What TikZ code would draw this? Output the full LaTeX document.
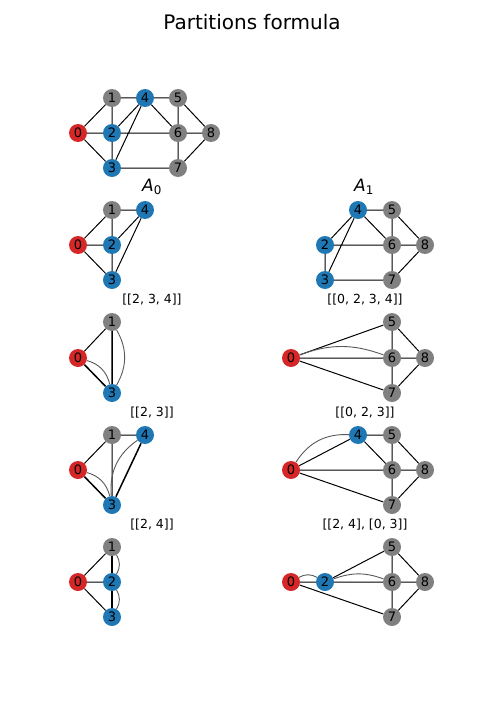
\documentclass[tikz,border=0pt]{standalone}
\usepackage{fontspec}
\setmainfont{DejaVu Sans}
\definecolor{tabred}{HTML}{D62728}
\definecolor{tabblue}{HTML}{1F77B4}
\definecolor{vgray}{HTML}{808080}

\begin{document}
\begin{tikzpicture}[x=1bp,y=-1bp,
  vtx/.style={circle,inner sep=0pt,minimum size=18bp,font=\fontsize{13bp}{14bp}\selectfont},
  vred/.style={vtx,fill=tabred},
  vblue/.style={vtx,fill=tabblue},
  vgrey/.style={vtx,fill=vgray},
  link/.style={line width=1bp},
  multilink/.style={line width=1.5bp},
  arclink/.style={draw=black!65,line width=0.9bp,bend left=30},
  caption/.style={font=\fontsize{12.5bp}{14bp}\selectfont},
  panel/.style={font=\fontsize{17bp}{19bp}\selectfont}]
  \useasboundingbox (0,0) rectangle (504,720);
  \node[font=\fontsize{20bp}{22bp}\selectfont] (title) at (252,22) {Partitions formula};

  \node[vred]  (t0) at (78,133) {0};
  \node[vgrey] (t1) at (112,98) {1};
  \node[vblue] (t2) at (112,133) {2};
  \node[vblue] (t3) at (112,168) {3};
  \node[vblue] (t4) at (145,98) {4};
  \node[vgrey] (t5) at (178,98) {5};
  \node[vgrey] (t6) at (178,133) {6};
  \node[vgrey] (t7) at (178,168) {7};
  \node[vgrey] (t8) at (211,133) {8};
  \draw[link] (t0) -- (t1) (t0) -- (t2) (t0) -- (t3) (t1) -- (t2) (t1) -- (t4)
    (t2) -- (t3) (t2) -- (t4) (t3) -- (t4) (t2) -- (t6) (t3) -- (t7) (t4) -- (t5)
    (t4) -- (t6) (t5) -- (t6) (t5) -- (t8) (t6) -- (t7) (t6) -- (t8) (t7) -- (t8);

  \node[panel] (ttl0) at (152,187) {\textit{A}\textsubscript{0}};
  \node[panel] (ttl1) at (364,187) {\textit{A}\textsubscript{1}};

  \node[vred]  (a0) at (78,245) {0};
  \node[vgrey] (a1) at (112,210) {1};
  \node[vblue] (a2) at (112,245) {2};
  \node[vblue] (a3) at (112,280) {3};
  \node[vblue] (a4) at (145,210) {4};
  \draw[link] (a0) -- (a1) (a0) -- (a2) (a0) -- (a3) (a1) -- (a2) (a1) -- (a4)
    (a2) -- (a3) (a2) -- (a4) (a3) -- (a4);
  \node[caption] (acap) at (152,300) {[[2, 3, 4]]};

  \node[vblue] (b2) at (325,245) {2};
  \node[vblue] (b3) at (325,280) {3};
  \node[vblue] (b4) at (358,210) {4};
  \node[vgrey] (b5) at (392,210) {5};
  \node[vgrey] (b6) at (392,245) {6};
  \node[vgrey] (b7) at (392,280) {7};
  \node[vgrey] (b8) at (425,245) {8};
  \draw[link] (b2) -- (b4) (b3) -- (b4) (b2) -- (b3) (b2) -- (b6) (b3) -- (b7)
    (b4) -- (b5) (b4) -- (b6) (b5) -- (b6) (b5) -- (b8) (b6) -- (b7) (b6) -- (b8) (b7) -- (b8);
  \node[caption] (bcap) at (365,300) {[[0, 2, 3, 4]]};

  \node[vred]  (c0) at (78,358) {0};
  \node[vgrey] (c1) at (112,322) {1};
  \node[vblue] (c3) at (112,393) {3};
  \draw[link] (c0) -- (c1);
  \draw[multilink] (c1) -- (c3) (c0) -- (c3);
  \draw[arclink] (c1) to (c3);
  \draw[arclink] (c0) to (c3);
  \node[caption] (ccap) at (152,413) {[[2, 3]]};

  \node[vred]  (d0) at (291,358) {0};
  \node[vgrey] (d5) at (392,322) {5};
  \node[vgrey] (d6) at (392,358) {6};
  \node[vgrey] (d7) at (392,393) {7};
  \node[vgrey] (d8) at (425,358) {8};
  \draw[link] (d0) -- (d5) (d0) -- (d6) (d0) -- (d7) (d5) -- (d6) (d5) -- (d8)
    (d6) -- (d7) (d6) -- (d8) (d7) -- (d8);
  \draw[arclink,bend left=20] (d0) to (d6);
  \node[caption] (dcap) at (365,413) {[[0, 2, 3]]};

  \node[vred]  (e0) at (78,470) {0};
  \node[vgrey] (e1) at (112,435) {1};
  \node[vblue] (e3) at (112,505) {3};
  \node[vblue] (e4) at (145,435) {4};
  \draw[link] (e0) -- (e1) (e1) -- (e4) (e1) -- (e3);
  \draw[multilink] (e0) -- (e3) (e3) -- (e4);
  \draw[arclink] (e0) to (e3);
  \draw[arclink] (e3) to (e4);
  \node[caption] (ecap) at (152,525) {[[2, 4]]};

  \node[vred]  (f0) at (291,470) {0};
  \node[vblue] (f4) at (358,435) {4};
  \node[vgrey] (f5) at (392,435) {5};
  \node[vgrey] (f6) at (392,470) {6};
  \node[vgrey] (f7) at (392,505) {7};
  \node[vgrey] (f8) at (425,470) {8};
  \draw[link] (f0) -- (f4) (f0) -- (f6) (f0) -- (f7) (f4) -- (f5) (f4) -- (f6)
    (f5) -- (f6) (f5) -- (f8) (f6) -- (f7) (f6) -- (f8) (f7) -- (f8);
  \draw[arclink] (f0) to (f4);
  \node[caption] (fcap) at (365,525) {[[2, 4], [0, 3]]};

  \node[vred]  (g0) at (78,582) {0};
  \node[vgrey] (g1) at (112,547) {1};
  \node[vblue] (g2) at (112,582) {2};
  \node[vblue] (g3) at (112,617) {3};
  \draw[link] (g0) -- (g1) (g0) -- (g2) (g0) -- (g3);
  \draw[multilink] (g1) -- (g2) (g2) -- (g3);
  \draw[arclink] (g1) to (g2);
  \draw[arclink] (g2) to (g3);

  \node[vred]  (h0) at (291,582) {0};
  \node[vblue] (h2) at (325,582) {2};
  \node[vgrey] (h5) at (392,547) {5};
  \node[vgrey] (h6) at (392,582) {6};
  \node[vgrey] (h7) at (392,617) {7};
  \node[vgrey] (h8) at (425,582) {8};
  \draw[link] (h0) -- (h2) (h0) -- (h7) (h2) -- (h5) (h2) -- (h6) (h5) -- (h6)
    (h5) -- (h8) (h6) -- (h7) (h6) -- (h8) (h7) -- (h8);
  \draw[arclink] (h0) to (h2);
  \draw[arclink,bend left=20] (h2) to (h6);
\end{tikzpicture}
\end{document}
